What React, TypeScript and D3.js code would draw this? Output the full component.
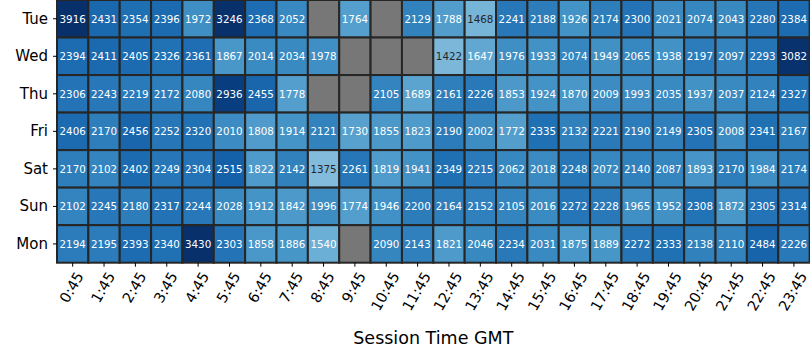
import React from "react";
import * as d3 from "d3";

const days = ["Tue", "Wed", "Thu", "Fri", "Sat", "Sun", "Mon"];
const times = [
  "0:45", "1:45", "2:45", "3:45", "4:45", "5:45", "6:45", "7:45", "8:45", "9:45", "10:45", "11:45",
  "12:45", "13:45", "14:45", "15:45", "16:45", "17:45", "18:45", "19:45", "20:45", "21:45", "22:45", "23:45",
];

const tue = [3916, 2431, 2354, 2396, 1972, 3246, 2368, 2052, null, 1764, null, 2129, 1788, 1468, 2241, 2188, 1926, 2174, 2300, 2021, 2074, 2043, 2280, 2384];
const wed = [2394, 2411, 2405, 2326, 2361, 1867, 2014, 2034, 1978, null, null, null, 1422, 1647, 1976, 1933, 2074, 1949, 2065, 1938, 2197, 2097, 2293, 3082];
const thu = [2306, 2243, 2219, 2172, 2080, 2936, 2455, 1778, null, null, 2105, 1689, 2161, 2226, 1853, 1924, 1870, 2009, 1993, 2035, 1937, 2037, 2124, 2327];
const fri = [2406, 2170, 2456, 2252, 2320, 2010, 1808, 1914, 2121, 1730, 1855, 1823, 2190, 2002, 1772, 2335, 2132, 2221, 2190, 2149, 2305, 2008, 2341, 2167];
const sat = [2170, 2102, 2402, 2249, 2304, 2515, 1822, 2142, 1375, 2261, 1819, 1941, 2349, 2215, 2062, 2018, 2248, 2072, 2140, 2087, 1893, 2170, 1984, 2174];
const sun = [2102, 2245, 2180, 2317, 2244, 2028, 1912, 1842, 1996, 1774, 1946, 2200, 2164, 2152, 2105, 2016, 2272, 2228, 1965, 1952, 2308, 1872, 2305, 2314];
const mon = [2194, 2195, 2393, 2340, 3430, 2303, 1858, 1886, 1540, null, 2090, 2143, 1821, 2046, 2234, 2031, 1875, 1889, 2272, 2333, 2138, 2110, 2484, 2226];

const rows: (number | null)[][] = [tue, wed, thu, fri, sat, sun, mon];

const blues = ["#f7fbff", "#deebf7", "#c6dbef", "#9ecae1", "#6baed6", "#4292c6", "#2171b5", "#08519c", "#08306b"];
const VMIN = 0;
const VMAX = 3100;

const FONT = "'DejaVu Sans', sans-serif";

function charW(s: string) {
  let w = 0;
  for (const c of s) w += c === ":" ? 0.337 : 0.636;
  return w;
}

function luminance(col: string) {
  const c = d3.rgb(col);
  const f = (v: number) => {
    v = v / 255;
    return v <= 0.03928 ? v / 12.92 : Math.pow((v + 0.055) / 1.055, 2.4);
  };
  return 0.2126 * f(c.r) + 0.7152 * f(c.g) + 0.0722 * f(c.b);
}

export default function App() {
  const W = 810;
  const H = 360;
  const left = 57;
  const right = 809.6;
  const top = 0;
  const bottom = 262.7;

  const x = d3.scaleBand<string>().domain(times).range([left, right]).padding(0);
  const y = d3.scaleBand<string>().domain(days).range([top, bottom]).padding(0);

  const t = d3.scaleLinear<number>().domain([VMIN, VMAX]).range([0, 1]).clamp(true);
  const stops = blues.map((_, i) => i / (blues.length - 1));
  const cmap = d3.scaleLinear<string>().domain(stops).range(blues).interpolate(d3.interpolateRgb);

  const cells: React.ReactNode[] = [];
  const labels: React.ReactNode[] = [];
  rows.forEach((row, ri) => {
    row.forEach((v, ci) => {
      const xx = x(times[ci])!;
      const yy = y(days[ri])!;
      const fill = v == null ? "#777777" : cmap(t(v));
      cells.push(
        <rect key={`c${ri}-${ci}`} x={xx} y={yy} width={x.bandwidth()} height={y.bandwidth()} fill={fill} stroke="#262626" strokeWidth={2} />
      );
      if (v != null) {
        const dark = luminance(fill) > 0.408;
        labels.push(
          <text key={`t${ri}-${ci}`} x={xx + x.bandwidth() / 2} y={yy + y.bandwidth() / 2} textAnchor="middle" dominantBaseline="central" fontSize={10.3} fill={dark ? "#262626" : "#ffffff"} fontFamily={FONT}>
            {v}
          </text>
        );
      }
    });
  });

  const fsX = 14.5;
  const ang = 60;
  const rad = (ang * Math.PI) / 180;
  const xTicks = times.map((tm) => {
    const cx = x(tm)! + x.bandwidth() / 2;
    const L = charW(tm) * fsX;
    const h = fsX * 1.0;
    const Hb = L * Math.sin(rad) + h * Math.cos(rad);
    const topY = bottom + 4 + 3;
    const cy = topY + Hb / 2;
    return (
      <g key={`x${tm}`}>
        <line x1={cx} x2={cx} y1={bottom} y2={bottom + 4} stroke="#000" strokeWidth={1} />
        <text transform={`translate(${cx - 1},${cy}) rotate(${-ang})`} textAnchor="middle" dominantBaseline="central" fontSize={fsX} fontFamily={FONT} fill="#000">
          {tm}
        </text>
      </g>
    );
  });

  const yTicks = days.map((d) => {
    const cy = y(d)! + y.bandwidth() / 2;
    return (
      <g key={`y${d}`}>
        <line x1={left - 4} x2={left} y1={cy} y2={cy} stroke="#000" strokeWidth={1} />
        <text x={left - 9} y={cy} textAnchor="end" dominantBaseline="central" fontSize={15} fontFamily={FONT} fill="#000">
          {d}
        </text>
      </g>
    );
  });

  return (
    <svg width={W} height={H} style={{ position: "absolute", left: 0, top: 0, background: "#fff" }}>
      <rect x={0} y={0} width={W} height={H} fill="#fff" />
      {cells}
      {labels}
      {xTicks}
      {yTicks}
      <text x={(left + right) / 2} y={344} textAnchor="middle" fontSize={17.5} fontFamily={FONT} fill="#000">
        Session Time GMT
      </text>
    </svg>
  );
}
